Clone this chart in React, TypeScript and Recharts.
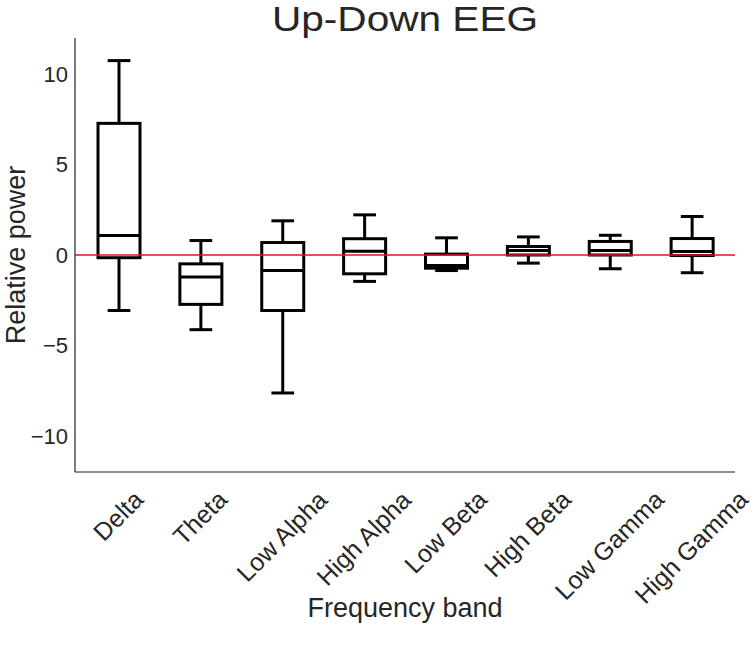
import React from "react";
import { ComposedChart, Bar, XAxis, YAxis, ReferenceLine, Label } from "recharts";

const bands = ["Delta", "Theta", "Low Alpha", "High Alpha", "Low Beta", "High Beta", "Low Gamma", "High Gamma"];
const whiskerLow = [-3.07, -4.13, -7.63, -1.46, -0.86, -0.45, -0.76, -0.98];
const q1 = [-0.15, -2.73, -3.07, -1.04, -0.73, 0.0, 0.0, -0.03];
const median = [1.08, -1.22, -0.86, 0.21, -0.58, 0.25, 0.25, 0.19];
const q3 = [7.28, -0.49, 0.69, 0.9, 0.05, 0.47, 0.75, 0.91];
const whiskerHigh = [10.75, 0.8, 1.89, 2.22, 0.95, 1.0, 1.09, 2.13];
const yTicks = [-10, -5, 0, 5, 10];

const data = bands.map((band, i) => ({
  band,
  range: [whiskerLow[i], whiskerHigh[i]],
  lo: whiskerLow[i],
  q1: q1[i],
  med: median[i],
  q3: q3[i],
  hi: whiskerHigh[i],
}));

const INK = "#262626";
const FONT = '"Liberation Sans", Arial, sans-serif';
const X_TICK_SIZE = 25;

let ctx: CanvasRenderingContext2D | null = null;
function textWidth(s: string, size: number) {
  if (!ctx) ctx = document.createElement("canvas").getContext("2d");
  if (!ctx) return s.length * size * 0.55;
  ctx.font = `${size}px ${FONT}`;
  return ctx.measureText(s).width;
}

function BoxShape(props: any) {
  const { x, y, width, height, payload } = props;
  if (!payload) return null;
  const top = Math.min(y, y + height);
  const h = Math.abs(height);
  const { lo, hi } = payload;
  const py = (v: number) => top + ((hi - v) / (hi - lo)) * h;
  const cx = x + width / 2;
  const cap = width * 0.27;
  return (
    <g stroke="#000" strokeWidth={3} fill="none">
      <line x1={cx} x2={cx} y1={py(hi)} y2={py(payload.q3)} />
      <line x1={cx} x2={cx} y1={py(payload.q1)} y2={py(lo)} />
      <line x1={cx - cap} x2={cx + cap} y1={py(hi)} y2={py(hi)} />
      <line x1={cx - cap} x2={cx + cap} y1={py(lo)} y2={py(lo)} />
      <rect x={x} y={py(payload.q3)} width={width} height={py(payload.q1) - py(payload.q3)} />
      <line x1={x} x2={x + width} y1={py(payload.med)} y2={py(payload.med)} />
    </g>
  );
}

// matplotlib-style rotated label: rotated bbox centred under the tick
function XTick(props: any) {
  const { x, y, payload } = props;
  const label = String(payload.value);
  const w = textWidth(label, X_TICK_SIZE);
  const h = X_TICK_SIZE;
  const yTop = y + 12;
  const cy = yTop + 0.3535 * (w + h);
  return (
    <text
      x={x - 1}
      y={cy}
      textAnchor="middle"
      dominantBaseline="central"
      transform={`rotate(-45, ${x - 1}, ${cy})`}
      fontSize={X_TICK_SIZE}
      fontFamily={FONT}
      fill={INK}
    >
      {label}
    </text>
  );
}

const fmt = (v: number) => (v < 0 ? `\u2212${Math.abs(v)}` : `${v}`);

export default function App() {
  return (
    <div style={{ position: "absolute", left: 0, top: 0, width: 754, height: 648, background: "#fff" }}>
      <ComposedChart width={754} height={648} data={data} margin={{ top: 38, right: 19, left: 0, bottom: 0 }}>
        <XAxis
          dataKey="band"
          height={176}
          tickLine={false}
          tickSize={0}
          axisLine={{ stroke: "#222", strokeWidth: 1.2 }}
          padding={{ left: 3, right: 2 }}
          interval={0}
          tick={(p: any) => <XTick {...p} />}
        >
          <Label
            content={() => (
              <text x={405} y={617} textAnchor="middle" fontSize={27} fontFamily={FONT} fill={INK}>
                Frequency band
              </text>
            )}
          />
        </XAxis>
        <YAxis
          width={75}
          domain={[-12, 12]}
          ticks={yTicks}
          tickFormatter={fmt}
          tickLine={false}
          tickSize={0}
          tickMargin={7}
          axisLine={{ stroke: "#222", strokeWidth: 1.2 }}
          tick={{ fill: INK, fontSize: 22, fontFamily: FONT }}
        >
          <Label
            content={() => (
              <text
                x={0}
                y={0}
                transform="translate(25,255) rotate(-90)"
                textAnchor="middle"
                fontSize={27}
                fontFamily={FONT}
                fill={INK}
              >
                Relative power
              </text>
            )}
          />
        </YAxis>
        <Bar dataKey="range" barSize={42} isAnimationActive={false} shape={(p: any) => <BoxShape {...p} />} />
        <ReferenceLine y={0} stroke="#d81818" strokeWidth={1.5} />
      </ComposedChart>
      <svg width={754} height={44} style={{ position: "absolute", left: 0, top: 0 }}>
        <text
          x={405}
          y={31}
          textAnchor="middle"
          fontSize={35}
          fontFamily={FONT}
          fill={INK}
          textLength={266}
          lengthAdjust="spacingAndGlyphs"
        >
          Up-Down EEG
        </text>
      </svg>
    </div>
  );
}
